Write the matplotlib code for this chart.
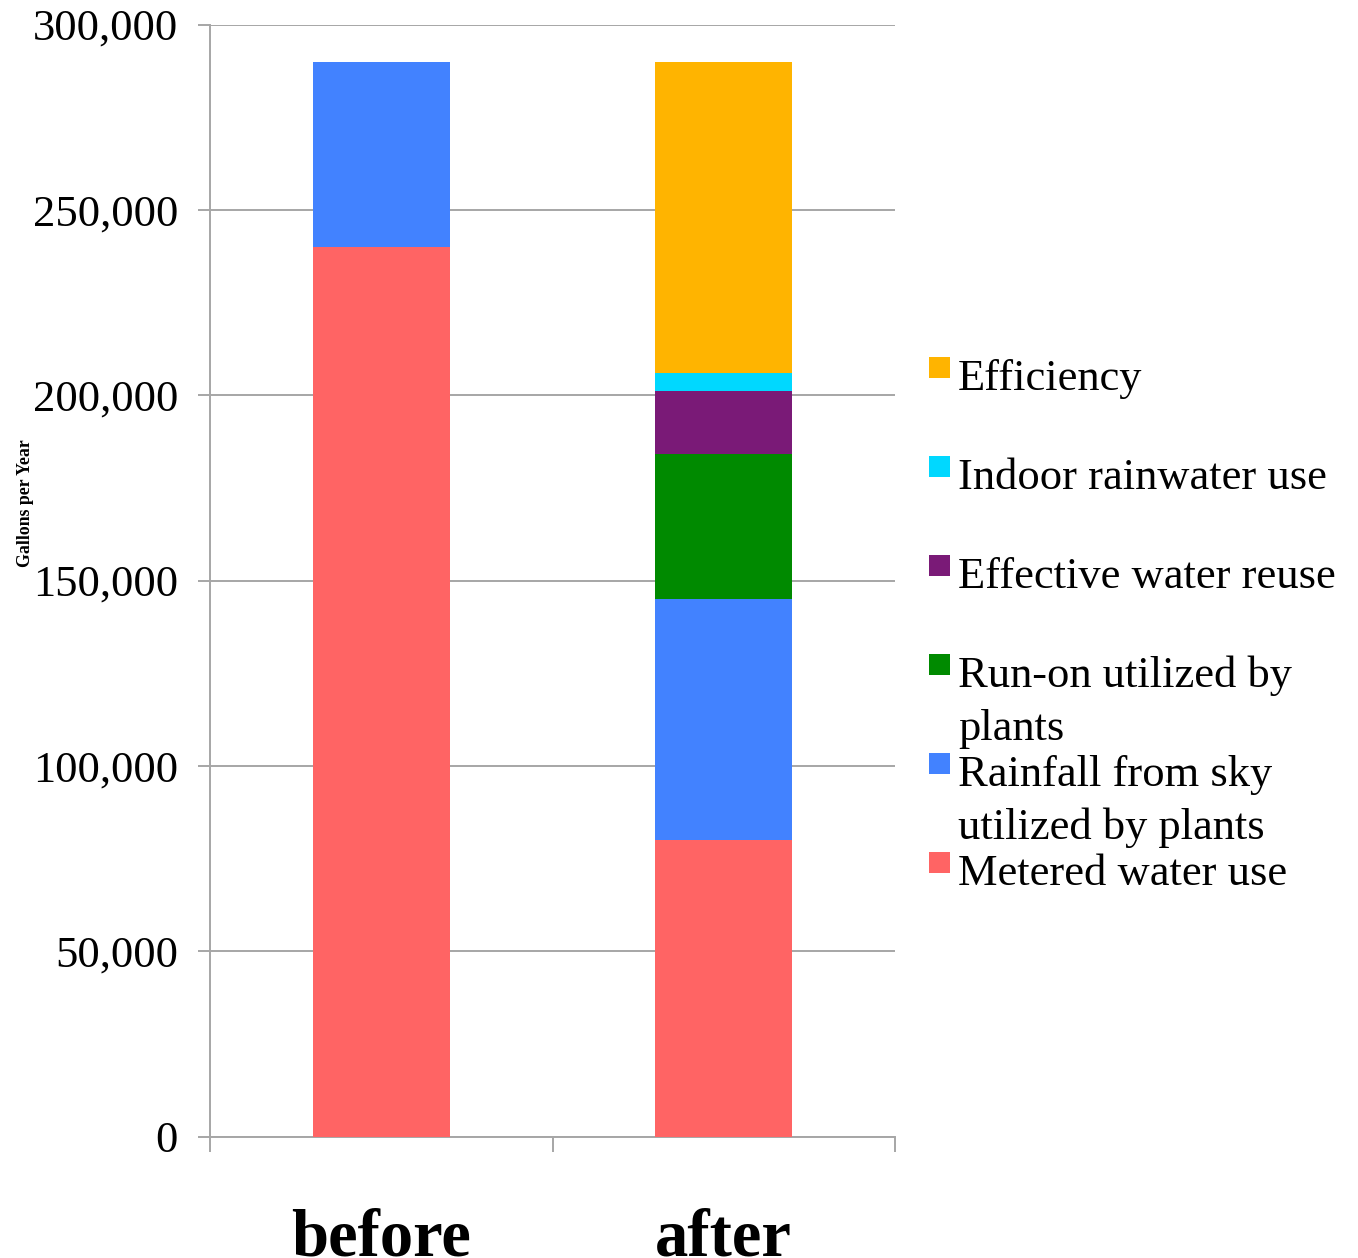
import matplotlib
matplotlib.use("Agg")
import matplotlib.pyplot as plt
from matplotlib.patches import Rectangle
from matplotlib.ticker import FuncFormatter, MultipleLocator

# Water supply breakdown, gallons per year
categories = ["before", "after"]
metered = [240000, 80000]
rain_sky = [50000, 65000]
run_on = [0, 39000]
reuse = [0, 17000]
indoor = [0, 5000]
efficiency = [0, 84000]

series = [metered, rain_sky, run_on, reuse, indoor, efficiency]
series_labels = ["Metered water use", "Rainfall from sky\nutilized by plants",
                 "Run-on utilized by\nplants", "Effective water reuse",
                 "Indoor rainwater use", "Efficiency"]
series_colors = ["#FF6464", "#4282FF", "#008A00", "#7A1A77", "#00D8FF", "#FFB400"]

plt.rcParams["font.family"] = ["Liberation Serif", "DejaVu Serif"]

W, H = 1358, 1258
fig = plt.figure(figsize=(W / 100, H / 100), dpi=100)


def fx(px):
    return px / W


def fy(py):
    return 1 - py / H


ax = fig.add_axes([fx(210), fy(1136.5), fx(895) - fx(210), fy(24.5) - fy(1136.5)])

x = list(range(len(categories)))
bottom = [0] * len(categories)
for vals, color in zip(series, series_colors):
    ax.bar(x, vals, width=0.4, bottom=bottom, color=color, linewidth=0, zorder=2)
    bottom = [b + v for b, v in zip(bottom, vals)]

ax.set_xlim(-0.5, 1.5)
ax.set_ylim(0, 300000)
ax.yaxis.set_major_locator(MultipleLocator(50000))
ax.yaxis.set_major_formatter(FuncFormatter(lambda v, p: f"{int(v):,}"))

grid_color = "#A6A6A6"
ax.set_axisbelow(True)
ax.grid(axis="y", color=grid_color, linewidth=1.4, zorder=0)
for side in ["top", "right", "bottom"]:
    ax.spines[side].set_visible(False)
ax.spines["left"].set_color(grid_color)
ax.spines["left"].set_linewidth(1.4)

ax.tick_params(axis="y", direction="out", length=9, width=1.4, color=grid_color,
               labelsize=32, pad=14)

# category boundaries as minor ticks, category names as major labels
ax.set_xticks(x)
ax.set_xticklabels(categories, fontsize=48, fontweight="bold")
ax.set_xticks([-0.5, 0.5, 1.5], minor=True)
ax.tick_params(axis="x", which="major", length=0, pad=52)
ax.tick_params(axis="x", which="minor", direction="out", length=11, width=1.4,
               color=grid_color)
ax.axhline(0, color=grid_color, linewidth=1.4, zorder=1, clip_on=False)

fig.text(fx(25), fy(503), "Gallons per Year", rotation=90, fontsize=12.8,
         fontweight="bold", ha="center", va="center")

# legend, top entry is the top of the stack
sq = 21
for i, (label, color) in enumerate(zip(series_labels[::-1], series_colors[::-1])):
    top = 357 + 99 * i
    fig.patches.append(Rectangle((fx(929), fy(top + sq)), fx(sq), fy(0) - fy(sq),
                                 transform=fig.transFigure, facecolor=color,
                                 edgecolor="none"))
    for j, line in enumerate(label.split("\n")):
        fig.text(fx(958), fy(top + 33 + 53 * j), line, fontsize=32,
                 ha="left", va="baseline")

fig.savefig("out.png", dpi=100)
